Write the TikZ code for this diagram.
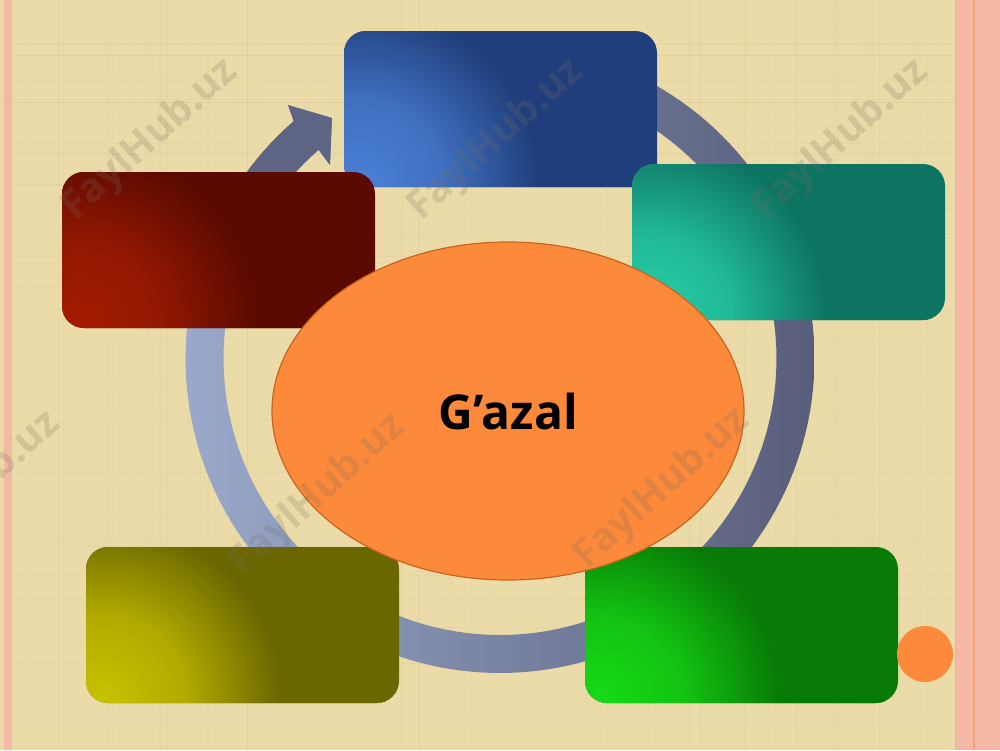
\documentclass[tikz,border=0pt]{standalone}
\usepackage{fontspec}
\setmainfont{Open Sans}
\usetikzlibrary{shapes.geometric}
\definecolor{bg}{HTML}{EBDBA8}
\definecolor{bgline}{HTML}{C9B27C}
\definecolor{pinkc}{HTML}{F3B9A5}
\definecolor{pinkline}{HTML}{F4A07A}
\definecolor{ringL}{HTML}{9AA9CB}
\definecolor{ringR}{HTML}{585D7A}
\definecolor{ringD}{HTML}{5E6584}
\definecolor{orangec}{HTML}{FD8A3A}
\definecolor{orangeb}{HTML}{C8641E}
\definecolor{blueD}{HTML}{203E7B}
\definecolor{blueL}{HTML}{4A80D6}
\definecolor{tealD}{HTML}{0E7462}
\definecolor{tealL}{HTML}{26CFA8}
\definecolor{redD}{HTML}{5A0A00}
\definecolor{redL}{HTML}{A41C02}
\definecolor{oliveD}{HTML}{6B6700}
\definecolor{oliveL}{HTML}{C8C100}
\definecolor{greenD}{HTML}{087A06}
\definecolor{greenL}{HTML}{16DA16}
\definecolor{wmark}{HTML}{7A6E62}
\colorlet{bxD}{blueD}
\colorlet{bxL}{blueL}
\pgfdeclareradialshading[bxD,bxL]{boxsh}{\pgfpointorigin}{color(0bp)=(bxL); color(7bp)=(bxL!75!bxD); color(15bp)=(bxD); color(50bp)=(bxD)}
\tikzset{
  gbox/.style 2 args={fill=#1, rounded corners=22pt, minimum width=313pt,
    minimum height=156pt, inner sep=0pt,
    path picture={\colorlet{bxD}{#1}\colorlet{bxL}{#2}\shade[shading=boxsh]
      ([xshift=10pt,yshift=6pt]path picture bounding box.south west) circle (290pt);}},
  wm/.style={rotate=42, text=wmark, text opacity=0.22,
    font=\fontsize{40}{48}\selectfont\bfseries, inner sep=0pt}
}
\begin{document}
\begin{tikzpicture}[x=1pt,y=-1pt]
\useasboundingbox (0,0) rectangle (1000,750);
\clip (0,0) rectangle (1000,750);
% background
\fill[bg] (0,0) rectangle (1000,750);
\pgfmathsetseed{7}
\foreach \i in {1,...,70}{
  \pgfmathsetmacro\xx{rnd*955}
  \draw[bgline, line width=0.6pt, opacity=0.12] (\xx,0) -- (\xx,750);
}
\foreach \i in {1,...,55}{
  \pgfmathsetmacro\yy{rnd*750}
  \draw[bgline, line width=0.6pt, opacity=0.12] (0,\yy) -- (956,\yy);
}
\fill[pinkc] (4,0) rectangle (12,750);
\fill[pinkc] (956,0) rectangle (1000,750);
\draw[bgline!80!black, line width=1pt, opacity=0.3] (955.5,0) -- (955.5,750);
\draw[pinkline, line width=2pt] (974,0) -- (974,750);
% ring arrow
\shade[left color=ringL, right color=ringR]
  plot[domain=-80:229, samples=160] ({500+314.5*cos(\x)}, {358.5+314.5*sin(\x)})
  -- (288,105) -- (332,118) -- (330,165)
  -- plot[domain=229:-80, samples=160] ({500+276.5*cos(\x)}, {358.5+276.5*sin(\x)})
  -- cycle;
\fill[ringD]
  plot[domain=200:229, samples=30] ({500+314.5*cos(\x)}, {358.5+314.5*sin(\x)})
  -- (288,105) -- (332,118) -- (330,165)
  -- plot[domain=229:200, samples=30] ({500+276.5*cos(\x)}, {358.5+276.5*sin(\x)})
  -- cycle;
% boxes
\node[gbox={blueD}{blueL}]   (b1) at (500.5,109) {};
\node[gbox={tealD}{tealL}]   (b2) at (788.5,242) {};
\node[gbox={redD}{redL}]     (b5) at (218.5,250) {};
\node[gbox={oliveD}{oliveL}] (b4) at (242.5,625) {};
\node[gbox={greenD}{greenL}] (b3) at (741.5,625) {};
% centre ellipse
\node[ellipse, draw=orangeb, line width=1.2pt, fill=orangec,
      minimum width=472pt, minimum height=338pt, inner sep=0pt,
      font=\fontsize{48}{58}\selectfont\bfseries] (gz) at (508,411) {G’azal};
% small dot
\node[circle, fill=orangec, minimum size=56pt, inner sep=0pt] (dot) at (925,654) {};
% watermarks
\node[wm] (w1) at (150,140) {FaylHub.uz};
\node[wm] (w2) at (496,140) {FaylHub.uz};
\node[wm] (w3) at (841,140) {FaylHub.uz};
\node[wm] (w4) at (-27,492) {FaylHub.uz};
\node[wm] (w5) at (318,495) {FaylHub.uz};
\node[wm] (w6) at (662,489) {FaylHub.uz};
\end{tikzpicture}
\end{document}
